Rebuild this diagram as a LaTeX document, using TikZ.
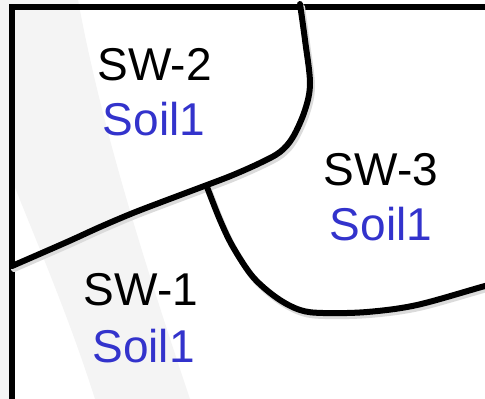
\documentclass[tikz,border=0pt]{standalone}
\usepackage{fontspec}
\setmainfont{Liberation Sans}
\definecolor{soilblue}{RGB}{51,51,204}
\definecolor{swoosh}{RGB}{244,244,244}
\begin{document}
\begin{tikzpicture}[x=1pt,y=-1pt,
  boundary/.style={line width=6pt, line cap=round, line join=round},
  zonename/.style={anchor=base, inner sep=0pt, font=\fontsize{46}{50}\selectfont},
  soiltag/.style={zonename, text=soilblue}]
\useasboundingbox (0,0) rectangle (485,399);
\clip (0,0) rectangle (485,399);

% backdrop with a soft grey swoosh
\fill[white] (0,0) rectangle (485,399);
\fill[swoosh] (0,0) -- (78,0) .. controls (100,120) and (140,250) .. (190,399)
  -- (95,399) .. controls (70,320) and (40,250) .. (14,185) -- (0,150) -- cycle;
\fill[swoosh] (0,0) rectangle (10,399);

% map frame
\draw[line width=5.4pt] (12,420) -- (12,7) -- (500,7);

% zone boundaries, each with a faint drop shadow
\foreach \ink/\dx/\dy in {black!14/2/3, black/0/0}{
  \begin{scope}[shift={(\dx,\dy)}]
    \draw[boundary, draw=\ink] plot[smooth, tension=0.55] coordinates {
      (300,4) (305,40) (310,83) (305,110) (293,137) (280,152) (260,163)
      (233,175) (207,185) (167,200) (133,213) (100,227) (67,242) (12,266)};
    \draw[boundary, draw=\ink] plot[smooth, tension=0.55] coordinates {
      (207,187) (220,220) (233,247) (253,277) (277,298) (300,310) (323,313)
      (367,312) (417,305) (485,286) (510,280)};
  \end{scope}
}

% zone labels
\node[zonename] (sw2) at (154.5,80) {SW-2};
\node[soiltag]  (s2)  at (154,135) {Soil1};
\node[zonename] (sw3) at (381,185) {SW-3};
\node[soiltag]  (s3)  at (381,240) {Soil1};
\node[zonename] (sw1) at (141,305) {SW-1};
\node[soiltag]  (s1)  at (143.5,362) {Soil1};
\end{tikzpicture}
\end{document}
